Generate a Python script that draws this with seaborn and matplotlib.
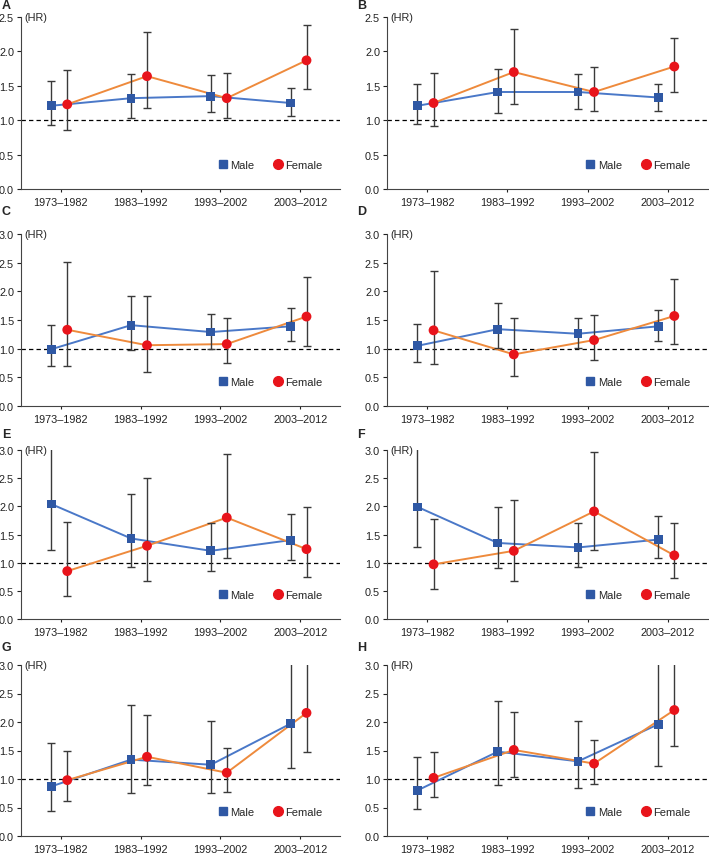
import numpy as np
import pandas as pd
import matplotlib
matplotlib.use('Agg')
import matplotlib.pyplot as plt
from matplotlib.lines import Line2D
import seaborn as sns

periods = ['1973\u20131982', '1983\u20131992', '1993\u20132002', '2003\u20132012']
panels = ['A', 'B', 'C', 'D', 'E', 'F', 'G', 'H']
ymax = {'A': 2.5, 'B': 2.5, 'C': 3.0, 'D': 3.0, 'E': 3.0, 'F': 3.0, 'G': 3.0, 'H': 3.0}

# hazard ratios with 95% CI (3.3 = bar runs off the top)
male_hr = {'A': [1.21, 1.32, 1.35, 1.25], 'B': [1.21, 1.41, 1.41, 1.33],
           'C': [0.99, 1.41, 1.29, 1.39], 'D': [1.05, 1.34, 1.26, 1.39],
           'E': [2.04, 1.43, 1.21, 1.40], 'F': [1.99, 1.35, 1.27, 1.41],
           'G': [0.87, 1.34, 1.25, 1.97], 'H': [0.80, 1.48, 1.31, 1.96]}
male_lo = {'A': [0.93, 1.03, 1.12, 1.06], 'B': [0.94, 1.11, 1.16, 1.14],
           'C': [0.70, 0.98, 1.00, 1.13], 'D': [0.77, 1.01, 1.02, 1.14],
           'E': [1.22, 0.92, 0.86, 1.04], 'F': [1.28, 0.91, 0.93, 1.09],
           'G': [0.44, 0.76, 0.76, 1.19], 'H': [0.47, 0.89, 0.84, 1.23]}
male_hi = {'A': [1.57, 1.67, 1.65, 1.47], 'B': [1.53, 1.74, 1.67, 1.53],
           'C': [1.42, 1.92, 1.61, 1.71], 'D': [1.43, 1.79, 1.54, 1.68],
           'E': [3.3, 2.22, 1.70, 1.87], 'F': [3.3, 1.98, 1.71, 1.83],
           'G': [1.63, 2.30, 2.01, 3.3], 'H': [1.38, 2.36, 2.02, 3.3]}
female_hr = {'A': [1.23, 1.64, 1.32, 1.87], 'B': [1.25, 1.70, 1.41, 1.78],
             'C': [1.33, 1.06, 1.08, 1.56], 'D': [1.32, 0.90, 1.15, 1.57],
             'E': [0.85, 1.30, 1.80, 1.24], 'F': [0.97, 1.21, 1.91, 1.13],
             'G': [0.98, 1.39, 1.11, 2.16], 'H': [1.02, 1.51, 1.27, 2.21]}
female_lo = {'A': [0.86, 1.18, 1.03, 1.46], 'B': [0.91, 1.24, 1.13, 1.41],
             'C': [0.70, 0.59, 0.75, 1.05], 'D': [0.73, 0.52, 0.81, 1.09],
             'E': [0.41, 0.67, 1.09, 0.75], 'F': [0.54, 0.68, 1.22, 0.72],
             'G': [0.61, 0.90, 0.78, 1.47], 'H': [0.68, 1.03, 0.92, 1.58]}
female_hi = {'A': [1.73, 2.28, 1.68, 2.39], 'B': [1.69, 2.32, 1.77, 2.19],
             'C': [2.52, 1.91, 1.54, 2.25], 'D': [2.35, 1.53, 1.59, 2.21],
             'E': [1.72, 2.51, 2.93, 1.99], 'F': [1.78, 2.11, 2.96, 1.70],
             'G': [1.50, 2.13, 1.55, 3.3], 'H': [1.48, 2.17, 1.69, 3.3]}

sns.set_style('ticks')
plt.rcParams['font.family'] = ['Liberation Sans', 'DejaVu Sans']

W, H = 709, 854
fig = plt.figure(figsize=(W / 100, H / 100), dpi=100)

cols = [(21, 340), (387, 708)]
rows = [(18, 190), (235, 407), (451, 620), (666, 837)]
label_y = [6, 212, 435, 648]

male_line, male_mark = '#4a78c8', '#2f58a4'
fem_line, fem_mark = '#ee8a3c', '#e8141b'
err_col = '#3a3a3a'
offs = {'Male': -0.12, 'Female': 0.08}

for i, p in enumerate(panels):
    r, c = divmod(i, 2)
    x0, x1 = cols[c]
    top, bot = rows[r]
    ax = fig.add_axes([x0 / W, 1 - bot / H, (x1 - x0) / W, (bot - top) / H])

    df = pd.concat([
        pd.DataFrame({'x': np.arange(4) + offs['Male'], 'hr': male_hr[p],
                      'lo': male_lo[p], 'hi': male_hi[p], 'sex': 'Male'}),
        pd.DataFrame({'x': np.arange(4) + offs['Female'], 'hr': female_hr[p],
                      'lo': female_lo[p], 'hi': female_hi[p], 'sex': 'Female'}),
    ])

    ax.axhline(1.0, color='black', lw=0.9, ls=(0, (3.5, 2.5)), zorder=1)
    sns.lineplot(data=df, x='x', y='hr', hue='sex', palette={'Male': male_line, 'Female': fem_line},
                 lw=1.4, legend=False, ax=ax, zorder=2, sort=False)
    for s in ['Male', 'Female']:
        d = df[df.sex == s]
        ax.errorbar(d.x, d.hr, yerr=[d.hr - d.lo, d.hi - d.hr], fmt='none',
                    ecolor=err_col, elinewidth=1.0, capsize=2.6, capthick=1.0, zorder=3)
    sns.scatterplot(data=df, x='x', y='hr', hue='sex', style='sex',
                    palette={'Male': male_mark, 'Female': fem_mark},
                    markers={'Male': 's', 'Female': 'o'}, size='sex',
                    sizes={'Male': 40, 'Female': 50}, edgecolor='none',
                    legend=False, ax=ax, zorder=4)

    ax.set_xlim(-0.5, 3.5)
    ax.set_ylim(0, ymax[p])
    ax.set_yticks(np.arange(0, ymax[p] + 0.01, 0.5))
    ax.set_yticklabels([f'{v:.1f}' for v in np.arange(0, ymax[p] + 0.01, 0.5)])
    ax.set_xticks(range(4))
    ax.set_xticklabels(periods)
    ax.set_xlabel('')
    ax.set_ylabel('')
    ax.tick_params(axis='both', labelsize=7.8, colors='#222222', width=0.8)
    ax.tick_params(axis='y', length=3, pad=2)
    ax.tick_params(axis='x', length=2.5, pad=3)
    for sp in ['top', 'right']:
        ax.spines[sp].set_visible(False)
    for sp in ['left', 'bottom']:
        ax.spines[sp].set_color('#444444')
        ax.spines[sp].set_linewidth(0.8)

    ax.text(0.012, 1.0, '(HR)', transform=ax.transAxes, fontsize=7.8, va='center', ha='left')

    handles = [Line2D([], [], ls='none', marker='s', color=male_mark, markersize=6),
               Line2D([], [], ls='none', marker='o', color=fem_mark, markersize=7)]
    ax.legend(handles, ['Male', 'Female'], ncol=2, frameon=False, fontsize=8,
              loc='center right', bbox_to_anchor=(0.96, 0.14), handletextpad=0.2,
              columnspacing=1.6, handlelength=1.0, borderaxespad=0)

    fig.text((2 if c == 0 else 357) / W, 1 - label_y[r] / H, p, fontsize=9,
             fontweight='bold', ha='left', va='center')

fig.savefig('out.png', dpi=100)
